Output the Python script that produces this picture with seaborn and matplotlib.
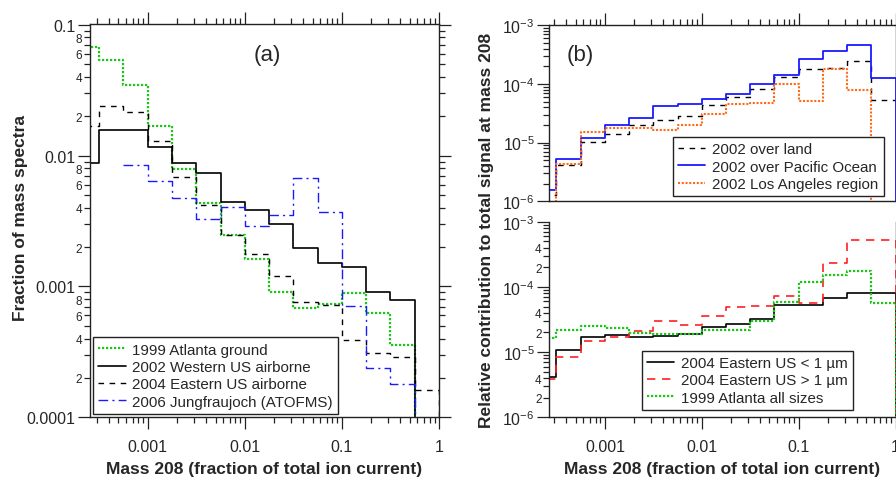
import numpy as np
import pandas as pd
import matplotlib
matplotlib.use("Agg")
import matplotlib.pyplot as plt
import matplotlib.ticker as mticker
import seaborn as sns

sns.set_style("ticks")
plt.rcParams['font.family'] = ['Liberation Sans', 'DejaVu Sans']
plt.rcParams['mathtext.fontset'] = 'custom'
plt.rcParams['mathtext.rm'] = 'Liberation Sans'
plt.rcParams['mathtext.default'] = 'regular'

# ---------------- data ----------------
# bin edges (log10 of fraction of total ion current)
edge_exp = [-3.75, -3.5, -3.25, -3.0, -2.75, -2.5, -2.25, -2.0, -1.75,
            -1.5, -1.25, -1.0, -0.75, -0.5, -0.25, 0.0]
edges = [10 ** e for e in edge_exp]
NONE = 1e-9  # empty bin (drawn below axis)

# panel (a): fraction of mass spectra
atl_ground = [0.068, 0.0538, 0.0345, 0.0168, 0.00788, 0.00436, 0.00248, 0.00163,
              0.00091, 0.00069, 0.00074, 0.00089, 0.000629, 0.000358, NONE]
west_air = [0.00873, 0.01556, 0.0158, 0.0116, 0.00873, 0.00731, 0.00438, 0.00385,
            0.0030, 0.00197, 0.0015, 0.0014, 0.000906, 0.00079, NONE]
east_air = [0.0167, 0.0240, 0.0216, 0.0129, 0.00689, 0.00418, 0.00248, 0.00178,
            0.0012, 0.000763, 0.000716, 0.000388, 0.000309, 0.000291, 0.000163]
jungfrau = [np.nan, np.nan, 0.00853, 0.00643, 0.0047, 0.0033, 0.00403, 0.0029,
            0.0035, 0.00673, 0.00373, 0.000703, 0.00024, 0.00018, NONE]

# panel (b) top
over_land = [1.3e-6, 4.18e-6, 1.045e-5, 1.41e-5, 1.96e-5, 2.39e-5, 2.83e-5, 4.31e-5,
             5.9e-5, 8.3e-5, 1.31e-4, 1.8e-4, 1.87e-4, 2.46e-4, 5.38e-5]
pacific = [1.56e-6, 5.28e-6, 1.19e-5, 1.96e-5, 2.62e-5, 4.14e-5, 4.54e-5, 5.6e-5,
           6.64e-5, 9.84e-5, 1.44e-4, 2.63e-4, 3.6e-4, 4.56e-4, 1.26e-4]
los_angeles = [NONE, 4.34e-6, 1.49e-5, 1.79e-5, 1.75e-5, 1.61e-5, 2.01e-5, 3.1e-5,
               4.48e-5, 4.72e-5, 9.84e-5, 5.1e-5, 1.77e-4, 7.97e-5, NONE]

# panel (b) bottom
east_small = [4.11e-6, 1.09e-5, 1.69e-5, 1.83e-5, 1.69e-5, 1.79e-5, 1.9e-5, 2.4e-5,
              2.7e-5, 3.22e-5, 5.28e-5, 5.28e-5, 6.84e-5, 7.97e-5, 7.97e-5]
east_large = [3.88e-6, 8.3e-6, 1.5e-5, 1.69e-5, 2.11e-5, 3.03e-5, 2.6e-5, 3.62e-5,
              4.86e-5, 5.15e-5, 7.34e-5, 5.6e-5, 2.32e-4, 5.23e-4, 5.23e-4]
atl_all = [1.63e-5, 2.21e-5, 2.55e-5, 2.37e-5, 1.96e-5, 1.9e-5, 1.9e-5, 2.21e-5,
           2.21e-5, 3.03e-5, 5.8e-5, 1.2e-4, 1.52e-4, 1.77e-4, 5.6e-5]

x_ticks = [0.001, 0.01, 0.1, 1]
x_tick_labels = ["0.001", "0.01", "0.1", "1"]
a_yticks = [0.0001, 0.001, 0.01, 0.1]
a_ytick_labels = ["0.0001", "0.001", "0.01", "0.1"]
b_yticks = [1e-6, 1e-5, 1e-4, 1e-3]
b_ytick_labels = [r"$10^{-6}$", r"$10^{-5}$", r"$10^{-4}$", r"$10^{-3}$"]

# ---------------- figure ----------------
W, H = 896, 481
fig = plt.figure(figsize=(W / 100, H / 100), dpi=100)


def frac(x0, y0, x1, y1):
    return [x0 / W, 1 - y1 / H, (x1 - x0) / W, (y1 - y0) / H]


axA = fig.add_axes(frac(90, 25, 439, 418.3))
axB1 = fig.add_axes(frac(549.3, 26.3, 895.5, 202.3))
axB2 = fig.add_axes(frac(549.3, 222.7, 895.5, 418.3))

GREEN = "#1fc41f"
BLUE = "#1a1aff"
ORANGE = "#ff6a1a"
RED = "#ff2020"


def stairs(ax, vals, label, color, ls, lw):
    y = list(vals) + [NONE]
    df = pd.DataFrame({"x": edges, "y": y}).dropna()
    sns.lineplot(data=df, x="x", y="y", ax=ax, color=color, linestyle=ls,
                 linewidth=lw, drawstyle="steps-post", label=label,
                 estimator=None, sort=False)


for ax in (axA, axB1, axB2):
    ax.set_xscale("log")
    ax.set_yscale("log")

stairs(axA, atl_ground, "1999 Atlanta ground", GREEN, (0, (1, 0.8)), 1.6)
stairs(axA, west_air, "2002 Western US airborne", "black", "-", 1.2)
stairs(axA, east_air, "2004 Eastern US airborne", "black", (0, (4, 4)), 1.0)
stairs(axA, jungfrau, "2006 Jungfraujoch (ATOFMS)", BLUE, (0, (7, 3, 1.5, 3)), 1.0)

stairs(axB1, over_land, "2002 over land", "black", (0, (4, 4)), 1.0)
stairs(axB1, pacific, "2002 over Pacific Ocean", BLUE, "-", 1.3)
stairs(axB1, los_angeles, "2002 Los Angeles region", ORANGE, (0, (1, 0.8)), 1.5)

stairs(axB2, east_small, "2004 Eastern US < 1 µm", "black", "-", 1.2)
stairs(axB2, east_large, "2004 Eastern US > 1 µm", RED, (0, (5, 4)), 1.2)
stairs(axB2, atl_all, "1999 Atlanta all sizes", GREEN, (0, (1, 0.8)), 1.6)

axA.set_xlim(10 ** -3.594, 1)
axA.set_ylim(1e-4, 0.1012)
for ax in (axB1, axB2):
    ax.set_xlim(10 ** -3.574, 1)
    ax.set_ylim(1e-6, 1e-3)

minor_subs = np.arange(2, 10)


def minor_fmt(keep):
    def f(v, pos):
        m = v / 10 ** np.floor(np.log10(v) + 1e-9)
        d = int(round(m))
        return str(d) if d in keep else ""
    return mticker.FuncFormatter(f)


for ax in (axA, axB1, axB2):
    ax.xaxis.set_major_locator(mticker.FixedLocator(x_ticks))
    ax.xaxis.set_minor_locator(mticker.LogLocator(base=10, subs=minor_subs, numticks=20))
    ax.xaxis.set_minor_formatter(mticker.NullFormatter())
    ax.yaxis.set_minor_locator(mticker.LogLocator(base=10, subs=minor_subs, numticks=20))
    for s in ax.spines.values():
        s.set_linewidth(1.0)
        s.set_color("#222222")
    ax.tick_params(which="both", direction="out", width=0.9, color="#222222")
    ax.tick_params(which="major", length=8.5)
    ax.tick_params(which="minor", length=4.5)
    ax.tick_params(axis="x", which="major", labelsize=11.5, pad=7)
    ax.tick_params(axis="y", which="major", labelsize=11.5, pad=2)
    ax.tick_params(axis="y", which="minor", labelsize=8.5, pad=1)
    ax.set_xlabel("")
    ax.set_ylabel("")

axA.set_xticks(x_ticks, x_tick_labels)
axA.yaxis.set_major_locator(mticker.FixedLocator(a_yticks))
axA.yaxis.set_major_formatter(mticker.FixedFormatter(a_ytick_labels))
axA.yaxis.set_minor_formatter(minor_fmt({2, 4, 6, 8}))
axA.tick_params(which="both", top=True, right=True, labeltop=False, labelright=False)

axB1.yaxis.set_major_locator(mticker.FixedLocator(b_yticks))
axB1.yaxis.set_major_formatter(mticker.FixedFormatter(b_ytick_labels))
axB1.yaxis.set_minor_formatter(mticker.NullFormatter())
axB1.tick_params(which="both", top=True, bottom=False, labelbottom=False, right=False)

axB2.set_xticks(x_ticks, x_tick_labels)
axB2.yaxis.set_major_locator(mticker.FixedLocator(b_yticks))
axB2.yaxis.set_major_formatter(mticker.FixedFormatter(b_ytick_labels))
axB2.yaxis.set_minor_formatter(minor_fmt({2, 4}))
axB2.tick_params(which="both", top=False, right=False)
axB2.spines["top"].set_visible(False)

# labels
xl = "Mass 208 (fraction of total ion current)"
fig.text(264.5 / W, 1 - 470 / H, xl, ha="center", va="center",
         fontsize=12.5, fontweight="bold")
fig.text(722.4 / W, 1 - 470 / H, xl, ha="center", va="center",
         fontsize=12.5, fontweight="bold")
fig.text(20.5 / W, 1 - 218 / H, "Fraction of mass spectra", rotation=90,
         ha="center", va="center", fontsize=12.5, fontweight="bold")
fig.text(486 / W, 1 - 230 / H, "Relative contribution to total signal at mass 208",
         rotation=90, ha="center", va="center", fontsize=12.5, fontweight="bold")

fig.text(267.5 / W, 1 - 55 / H, "(a)", ha="center", va="center", fontsize=16)
fig.text(580.3 / W, 1 - 55.3 / H, "(b)", ha="center", va="center", fontsize=16)

# legends
leg_kw = dict(fontsize=10.9, frameon=True, fancybox=False, framealpha=1,
              edgecolor="#222222", handlelength=1.8, handletextpad=0.45,
              labelspacing=0.22, borderpad=0.35, borderaxespad=0,
              loc="lower left", bbox_transform=fig.transFigure)
for ax, (x0, y1) in ((axA, (93, 415)), (axB1, (672.7, 197.3)), (axB2, (641.7, 411))):
    leg = ax.legend(bbox_to_anchor=(x0 / W, 1 - y1 / H), **leg_kw)
    leg.get_frame().set_linewidth(1.0)

fig.savefig("out.png", dpi=100)
